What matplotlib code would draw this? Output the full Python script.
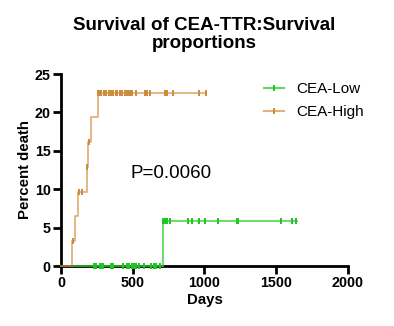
import matplotlib.pyplot as plt
from matplotlib.lines import Line2D

plt.rcParams['font.family'] = ['Liberation Sans', 'DejaVu Sans']

# CEA-High curve (step, percent death)
high_days = [0, 78, 94, 115, 180, 189, 207, 260, 1014]
high_pct = [0, 3.23, 6.45, 9.68, 12.9, 16.13, 19.35, 22.58, 22.58]
high_cens_days = [83, 122, 143, 183, 195,
                  260, 270, 281, 300, 316, 332, 346, 362, 380, 392, 408, 424,
                  443, 461, 473, 482, 494, 519, 588, 600, 623, 722, 738, 777,
                  961, 1014]
high_cens_pct = [3.23, 9.68, 9.68, 12.9, 16.13] + [22.58] * 26

# CEA-Low curve
low_days = [0, 714, 1647]
low_pct = [0, 5.88, 5.88]
low_cens_days = [230, 242, 270, 281, 292, 350, 361, 431, 461, 477, 493, 511,
                 523, 541, 580, 627, 645, 661, 691,
                 714, 726, 742, 758, 887, 910, 961, 1007, 1094, 1225, 1232,
                 1536, 1610, 1640]
low_cens_pct = [0] * 19 + [5.88] * 14

high_line = '#e2b27c'
high_mark = '#cc8a3c'
low_line = '#5fdc5f'
low_mark = '#1fc41f'

fig = plt.figure(figsize=(3.94, 3.26), dpi=100)
ax = fig.add_axes([0.155, 0.184, 0.728, 0.589])

ax.step(high_days, high_pct, where='post', color=high_line, lw=1.3,
        clip_on=False, zorder=3)
ax.plot(high_cens_days, high_cens_pct, ls='none', marker='|', ms=5, mew=1.4,
        color=high_mark, clip_on=False, zorder=4)
ax.step(low_days, low_pct, where='post', color=low_line, lw=1.3,
        clip_on=False, zorder=3)
ax.plot([0, 714], [0, 0], color='#1a9a1a', lw=1.3, clip_on=False, zorder=3)
ax.plot([0, 78], [0, 0], color='#a06a30', lw=1.3, clip_on=False, zorder=3.5)
ax.plot(low_cens_days, low_cens_pct, ls='none', marker='|', ms=5, mew=1.4,
        color=low_mark, clip_on=False, zorder=4)

ax.set_xlim(0, 2000)
ax.set_ylim(0, 25)
ax.set_xticks([0, 500, 1000, 1500, 2000])
ax.set_yticks([0, 5, 10, 15, 20, 25])
for s in ['top', 'right']:
    ax.spines[s].set_visible(False)
for s in ['left', 'bottom']:
    ax.spines[s].set_linewidth(2)
ax.tick_params(direction='out', length=6, width=2, labelsize=10.3, pad=1.5)
for lab in ax.get_xticklabels() + ax.get_yticklabels():
    lab.set_fontweight('bold')

ax.set_xlabel('Days', fontsize=10.8, fontweight='bold', labelpad=2)
ax.set_ylabel('Percent death', fontsize=10.8, fontweight='bold', labelpad=2)
ax.set_title('Survival of CEA-TTR:Survival\nproportions', fontsize=13.5,
             fontweight='bold', pad=19, linespacing=1.05)

ax.text(482, 11.5, 'P=0.0060', fontsize=13.5)

handles = [Line2D([], [], color=low_line, marker='|', mec=low_mark, ms=5, mew=1.4),
           Line2D([], [], color=high_line, marker='|', mec=high_mark, ms=5, mew=1.4)]
ax.legend(handles, ['CEA-Low', 'CEA-High'], loc='upper right',
          bbox_to_anchor=(1.105, 1.03), frameon=False, fontsize=11,
          handlelength=1.35, handletextpad=0.8, labelspacing=0.6)

fig.savefig('out.png', dpi=100)
